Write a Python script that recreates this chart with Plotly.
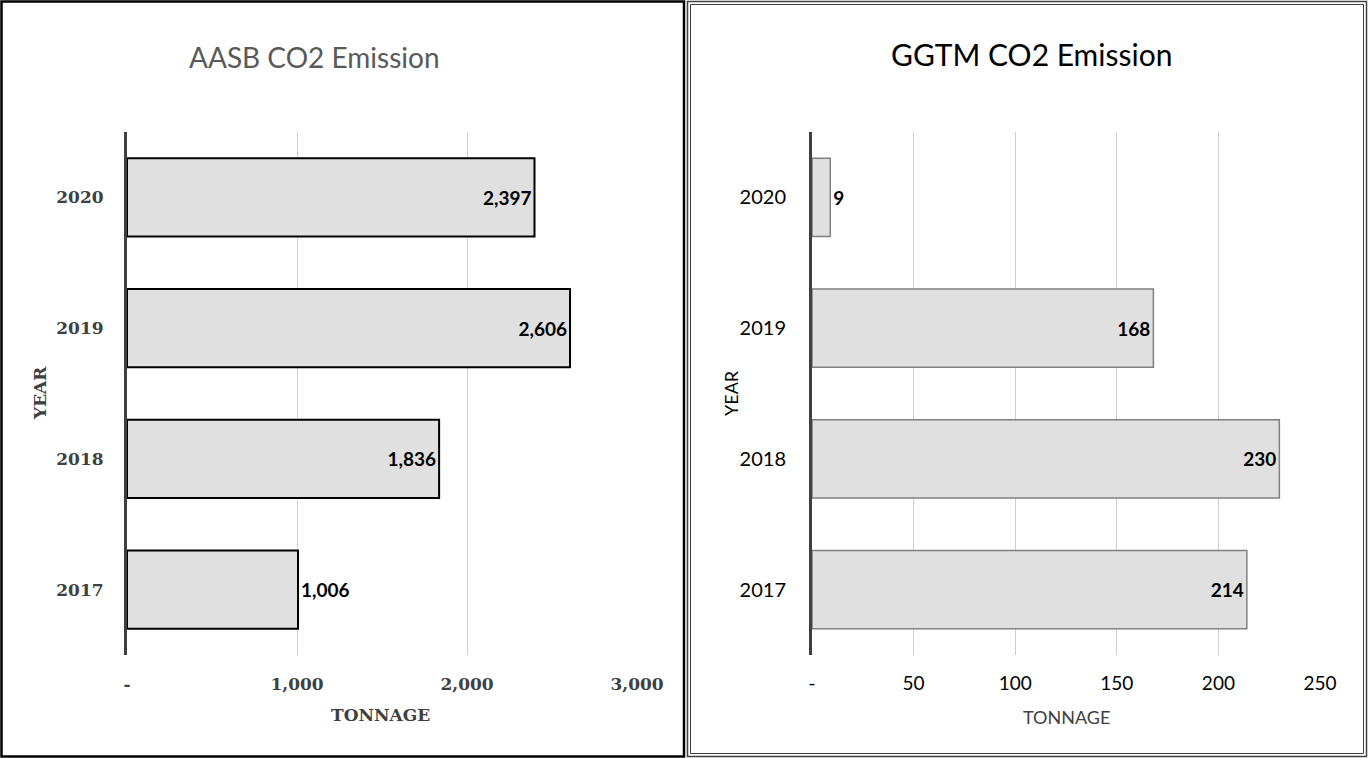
import plotly.graph_objects as go

W, H = 1368, 758

years = ["2017", "2018", "2019", "2020"]
aasb_values = [1006, 1836, 2606, 2397]
ggtm_values = [214, 230, 168, 9]
aasb_labels = ["1,006", "1,836", "2,606", "2,397"]
ggtm_labels = ["214", "230", "168", "9"]
aasb_ticks = [0, 1000, 2000, 3000]
aasb_ticktext = ["-", "1,000", "2,000", "3,000"]
ggtm_ticks = [0, 50, 100, 150, 200, 250]
ggtm_ticktext = ["-", "50", "100", "150", "200", "250"]

SANS = "Lato, 'Open Sans', sans-serif"
SERIF = "'DejaVu Serif', 'Liberation Serif', serif"


def px(x):
    return x / W


def py(y):
    return 1 - y / H


fig = go.Figure()

fig.add_trace(go.Bar(
    x=aasb_values, y=years, orientation="h",
    marker=dict(color="#e0e0e0", line=dict(color="#000000", width=2)),
    text=aasb_labels,
    textposition=["outside", "inside", "inside", "inside"],
    insidetextanchor="end", textangle=0,
    textfont=dict(family=SANS, size=19, color="#000000", weight="bold"),
    cliponaxis=False, xaxis="x", yaxis="y", showlegend=False,
))

fig.add_trace(go.Bar(
    x=ggtm_values, y=years, orientation="h",
    marker=dict(color="#e0e0e0", line=dict(color="#808080", width=1.5)),
    text=ggtm_labels,
    textposition=["inside", "inside", "inside", "outside"],
    insidetextanchor="end", textangle=0,
    textfont=dict(family=SANS, size=19, color="#000000", weight="bold"),
    cliponaxis=False, xaxis="x2", yaxis="y2", showlegend=False,
))

ydom = [py(655), py(132)]


def ann(text, x, y, font, angle=0):
    return dict(text=text, x=px(x), y=py(y), xref="paper", yref="paper",
                xanchor="center", yanchor="middle", textangle=angle,
                showarrow=False, font=font)


fig.update_layout(
    template="none",
    width=W, height=H, autosize=False,
    margin=dict(l=0, r=0, t=0, b=0, pad=0),
    paper_bgcolor="white", plot_bgcolor="white",
    bargap=0.4,
    xaxis=dict(
        domain=[px(127), px(637)], range=[0, 3000], automargin=False,
        tickvals=aasb_ticks, ticktext=aasb_ticktext,
        showgrid=True, gridcolor="#d0d0d0", gridwidth=1,
        zeroline=False, showline=False, ticks="", ticklabelstandoff=17,
        tickfont=dict(family=SERIF, size=17, color="#404040", weight="bold"),
        anchor="y", fixedrange=True,
    ),
    yaxis=dict(
        domain=ydom, type="category", categoryorder="array", categoryarray=years,
        range=[-0.5, 3.5], automargin=False,
        showline=True, linecolor="#404040", linewidth=3,
        showgrid=False, zeroline=False, ticks="", ticklabelstandoff=17,
        tickfont=dict(family=SERIF, size=17, color="#404040", weight="bold"),
        anchor="x", fixedrange=True,
    ),
    xaxis2=dict(
        domain=[px(812), px(1320)], range=[0, 250], automargin=False,
        tickvals=ggtm_ticks, ticktext=ggtm_ticktext,
        showgrid=True, gridcolor="#d0d0d0", gridwidth=1,
        zeroline=False, showline=False, ticks="", ticklabelstandoff=15,
        tickfont=dict(family=SANS, size=19, color="#000000"),
        anchor="y2", fixedrange=True,
    ),
    yaxis2=dict(
        domain=ydom, type="category", categoryorder="array", categoryarray=years,
        range=[-0.5, 3.5], automargin=False,
        showline=True, linecolor="#404040", linewidth=3,
        showgrid=False, zeroline=False, ticks="", ticklabelstandoff=19,
        tickfont=dict(family=SANS, size=20, color="#000000"),
        anchor="x2", fixedrange=True,
    ),
    annotations=[
        ann("AASB CO2 Emission", 314, 57, dict(family=SANS, size=28, color="#595959")),
        ann("GGTM CO2 Emission", 1031, 54, dict(family=SANS, size=30, color="#000000")),
        ann("TONNAGE", 381, 715, dict(family=SERIF, size=17, color="#404040", weight="bold")),
        ann("YEAR", 40, 393, dict(family=SERIF, size=17, color="#404040", weight="bold"), -90),
        ann("TONNAGE", 1066, 717, dict(family=SANS, size=18, color="#404040")),
        ann("YEAR", 731, 393, dict(family=SANS, size=18, color="#000000"), -90),
    ],
    shapes=[
        dict(type="rect", xref="paper", yref="paper",
             x0=px(1.5), x1=px(684), y0=py(756.5), y1=py(1.5),
             line=dict(color="#000000", width=2.5), fillcolor="rgba(0,0,0,0)", layer="above"),
        dict(type="rect", xref="paper", yref="paper",
             x0=px(687.5), x1=px(1366.5), y0=py(756.5), y1=py(1.5),
             line=dict(color="#404040", width=1.5), fillcolor="rgba(0,0,0,0)", layer="above"),
        dict(type="rect", xref="paper", yref="paper",
             x0=px(690.5), x1=px(1363.5), y0=py(753.5), y1=py(4.5),
             line=dict(color="#404040", width=1), fillcolor="rgba(0,0,0,0)", layer="above"),
    ],
)

fig.write_html(
    "out.html",
    config={"responsive": False, "displayModeBar": False},
    default_width="1368px", default_height="758px",
    post_script="document.body.style.margin='0';document.body.style.overflow='hidden';",
)
